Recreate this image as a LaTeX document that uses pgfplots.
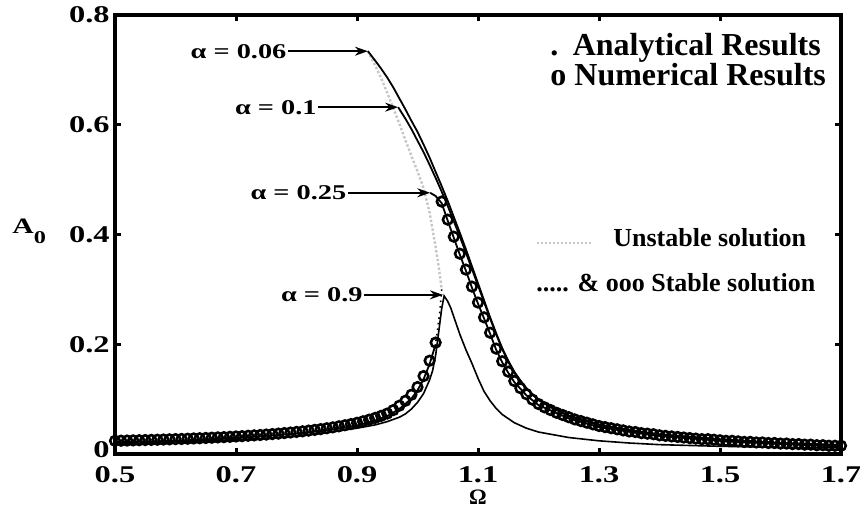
\documentclass[border=0pt]{standalone}
\usepackage{fontspec}
\setmainfont{Liberation Serif}
\newfontfamily\widefont{Liberation Serif}[FakeStretch=1.35]
\usepackage{pgfplots}
\usepackage{pgfplotstable}
\pgfplotsset{compat=1.18}
\usetikzlibrary{arrows.meta}

% Numerical results (circles): lower branch, then upper branch
\pgfplotstableread{
W A
0.50 0.0240
0.51 0.0242
0.52 0.0245
0.53 0.0248
0.54 0.0251
0.55 0.0254
0.56 0.0257
0.57 0.0260
0.58 0.0263
0.59 0.0267
0.60 0.0271
0.61 0.0274
0.62 0.0278
0.63 0.0283
0.64 0.0287
0.65 0.0292
0.66 0.0297
0.67 0.0302
0.68 0.0307
0.69 0.0313
0.70 0.0319
0.71 0.0325
0.72 0.0332
0.73 0.0339
0.74 0.0346
0.75 0.0354
0.76 0.0363
0.77 0.0371
0.78 0.0381
0.79 0.0391
0.80 0.0402
0.81 0.0413
0.82 0.0426
0.83 0.0439
0.84 0.0453
0.85 0.0469
0.86 0.0485
0.87 0.0504
0.88 0.0524
0.89 0.0545
0.90 0.0569
0.91 0.0596
0.92 0.0625
0.93 0.0658
0.94 0.0695
0.95 0.0737
0.96 0.080
0.97 0.088
0.98 0.097
0.99 0.108
1.00 0.122
1.01 0.142
1.02 0.170
1.03 0.203
}\numlow

\pgfplotstableread{
W A
1.04 0.460
1.05 0.427
1.06 0.396
1.07 0.365
1.08 0.336
1.09 0.305
1.10 0.276
1.11 0.249
1.12 0.221
1.13 0.192
1.14 0.169
1.15 0.150
1.16 0.133
1.17 0.120
1.18 0.109
1.19 0.099
1.20 0.091
1.21 0.085
1.22 0.080
1.23 0.075
1.24 0.071
1.25 0.067
1.26 0.063
1.27 0.060
1.28 0.057
1.29 0.054
1.30 0.051
1.31 0.049
1.32 0.047
1.33 0.045
1.34 0.043
1.35 0.041
1.36 0.040
1.37 0.038
1.38 0.037
1.39 0.036
1.40 0.034
1.41 0.033
1.42 0.032
1.43 0.031
1.44 0.030
1.45 0.029
1.46 0.028
1.47 0.027
1.48 0.027
1.49 0.026
1.50 0.025
1.51 0.024
1.52 0.024
1.53 0.023
1.54 0.022
1.55 0.022
1.56 0.021
1.57 0.021
1.58 0.020
1.59 0.020
1.60 0.019
1.61 0.019
1.62 0.018
1.63 0.018
1.64 0.017
1.65 0.017
1.66 0.016
1.67 0.016
1.68 0.015
1.69 0.015
1.70 0.015
}\numup

% Analytical stable branches
\pgfplotstableread{
W A
0.918 0.734
0.93 0.717
0.94 0.702
0.95 0.686
0.96 0.668
0.97 0.648
0.98 0.628
0.99 0.607
1.00 0.587
1.01 0.564
1.02 0.540
1.03 0.514
1.04 0.488
1.05 0.461
1.06 0.432
1.07 0.403
1.08 0.373
1.09 0.342
1.10 0.311
1.11 0.280
1.12 0.249
1.13 0.220
1.14 0.193
1.15 0.170
1.16 0.150
1.17 0.134
1.18 0.120
1.19 0.109
1.20 0.099
1.22 0.085
1.25 0.070
1.30 0.054
1.35 0.043
1.40 0.036
1.50 0.027
1.60 0.020
1.70 0.016
}\upA

\pgfplotstableread{
W A
0.968 0.632
0.98 0.611
0.99 0.592
1.00 0.571
1.01 0.550
1.02 0.527
1.03 0.503
1.04 0.478
1.05 0.452
1.06 0.424
1.07 0.396
1.08 0.367
1.09 0.337
1.10 0.307
1.11 0.277
1.12 0.247
1.13 0.218
1.14 0.191
1.15 0.168
1.16 0.148
1.18 0.119
1.20 0.098
1.25 0.069
1.30 0.053
1.40 0.035
1.50 0.026
1.60 0.020
1.70 0.016
}\upB

\pgfplotstableread{
W A
1.021 0.476
1.030 0.470
1.040 0.457
1.05 0.425
1.06 0.394
1.07 0.363
1.08 0.334
1.09 0.303
1.10 0.274
1.11 0.247
1.12 0.219
1.13 0.190
1.14 0.167
1.15 0.148
1.16 0.131
1.18 0.107
1.20 0.089
1.25 0.065
1.30 0.049
1.40 0.033
1.50 0.024
1.60 0.018
1.70 0.014
}\upC

\pgfplotstableread{
W A
0.50 0.021
0.60 0.024
0.70 0.029
0.80 0.037
0.85 0.043
0.90 0.052
0.93 0.061
0.95 0.069
0.97 0.082
0.99 0.101
1.00 0.116
1.01 0.136
1.02 0.164
1.03 0.200
}\lowbranch

\pgfplotstableread{
W A
0.50 0.019
0.55 0.020
0.60 0.022
0.65 0.024
0.70 0.026
0.75 0.029
0.80 0.033
0.85 0.039
0.90 0.047
0.93 0.053
0.95 0.059
0.97 0.067
0.98 0.073
0.99 0.082
1.00 0.094
1.01 0.110
1.02 0.135
1.025 0.152
1.03 0.180
1.035 0.222
1.040 0.265
1.044 0.288
1.050 0.278
1.055 0.266
1.06 0.250
1.07 0.218
1.08 0.190
1.09 0.165
1.10 0.138
1.11 0.114
1.12 0.097
1.13 0.083
1.14 0.072
1.16 0.057
1.18 0.047
1.20 0.040
1.25 0.030
1.30 0.024
1.35 0.020
1.40 0.017
1.50 0.014
1.60 0.012
1.70 0.011
}\curveD

% Unstable branch
\pgfplotstableread{
W A
0.918 0.734
0.93 0.708
0.94 0.685
0.95 0.658
0.96 0.630
0.97 0.602
0.98 0.572
0.99 0.543
1.00 0.515
1.01 0.485
1.02 0.440
1.03 0.377
1.035 0.342
1.040 0.300
}\unstable

\pgfplotstableread{
W A
1.040 0.300
1.037 0.260
1.033 0.225
1.030 0.203
}\unstablelow

\begin{document}
\begin{tikzpicture}
\begin{axis}[
  scale only axis,
  width=363pt, height=219.5pt,
  xmin=0.5, xmax=1.7, ymin=0, ymax=0.8,
  xtick={0.5,0.7,0.9,1.1,1.3,1.5,1.7},
  xticklabels={0.5,0.7,0.9,1.1,1.3,1.5,1.7},
  ytick={0,0.2,0.4,0.6,0.8},
  yticklabels={{\raisebox{2pt}[\height][\depth]{0}},0.2,0.4,0.6,0.8},
  tick align=inside,
  major tick length=3pt,
  every tick/.style={black, line width=1.5pt},
  axis line style={line width=2pt},
  tick label style={font=\widefont\bfseries\fontsize{12}{12}\selectfont},
  xticklabel style={anchor=north, inner sep=0pt, yshift=-6pt},
  yticklabel style={anchor=east, inner sep=0pt, xshift=-2.5pt},
  xlabel={\bfseries\fontsize{11}{11}\selectfont Ω},
  xlabel style={at={(axis description cs:0.5,0)}, anchor=center, inner sep=0pt, yshift=-21.5pt},
  clip mode=individual,
]
\coordinate (bl) at (rel axis cs:0,0);
\coordinate (tr) at (rel axis cs:1,1);
\coordinate (yl) at (rel axis cs:0,0.503);

% unstable solution
\addplot[gray!45, line width=1.2pt, densely dotted] table {\unstable};
\addplot[black, line width=0.8pt, dotted] table {\unstablelow};

% stable analytical branches
\addplot[black, line width=0.9pt] table {\upA};
\addplot[black, line width=0.9pt] table {\upB};
\addplot[black, line width=0.9pt] table {\upC};
\addplot[black, line width=0.9pt] table {\lowbranch};
\addplot[black, line width=0.8pt] table {\curveD};

% numerical results
\addplot[only marks, mark=o, mark size=2.4pt, mark options={line width=1.3pt, black}] table {\numlow};
\addplot[only marks, mark=o, mark size=2.4pt, mark options={line width=1.3pt, black}] table {\numup};

% labels of the curves
\begin{scope}[every node/.style={font=\widefont\bfseries\fontsize{10.5}{10.5}\selectfont, inner sep=0pt, anchor=east}]
\node at (axis cs:0.784,0.734) {α = 0.06};
\node at (axis cs:0.834,0.632) {α = 0.1};
\node at (axis cs:0.883,0.476) {α = 0.25};
\node at (axis cs:0.910,0.290) {α = 0.9};
\end{scope}
\begin{scope}[line width=0.75pt, -{Stealth[length=6.5pt,width=4.5pt]}]
\draw (axis cs:0.786,0.734) -- (axis cs:0.918,0.734);
\draw (axis cs:0.836,0.632) -- (axis cs:0.968,0.632);
\draw (axis cs:0.885,0.476) -- (axis cs:1.021,0.476);
\draw (axis cs:0.912,0.290) -- (axis cs:1.042,0.290);
\end{scope}

% key
\node[anchor=west, inner sep=0pt, font=\bfseries\fontsize{16}{16}\selectfont] at (axis cs:1.219,0.740) {.\hspace{0.45em}Analytical Results};
\node[anchor=west, inner sep=0pt, font=\bfseries\fontsize{16}{16}\selectfont] at (axis cs:1.219,0.692) {o Numerical Results};
\draw[gray!45, line width=1pt, densely dotted] (axis cs:1.1975,0.384) -- (axis cs:1.290,0.384);
\node[anchor=west, inner sep=0pt, font=\bfseries\fontsize{13}{13}\selectfont] at (axis cs:1.323,0.394) {Unstable solution};
\node[anchor=west, inner sep=0pt, font=\bfseries\fontsize{13}{13}\selectfont] at (axis cs:1.196,0.313) {..... \& ooo Stable solution};
\end{axis}
\node[anchor=base west, inner sep=0pt, font=\widefont\bfseries\fontsize{11}{11}\selectfont] at ([xshift=-51.5pt]yl) {A\raisebox{-5pt}{\fontsize{9}{9}\selectfont 0}};
\pgfresetboundingbox
\path[use as bounding box] ([shift={(-57.5pt,-27.5pt)}]bl) rectangle ([shift={(9.5pt,7.5pt)}]tr);
\end{tikzpicture}
\end{document}
